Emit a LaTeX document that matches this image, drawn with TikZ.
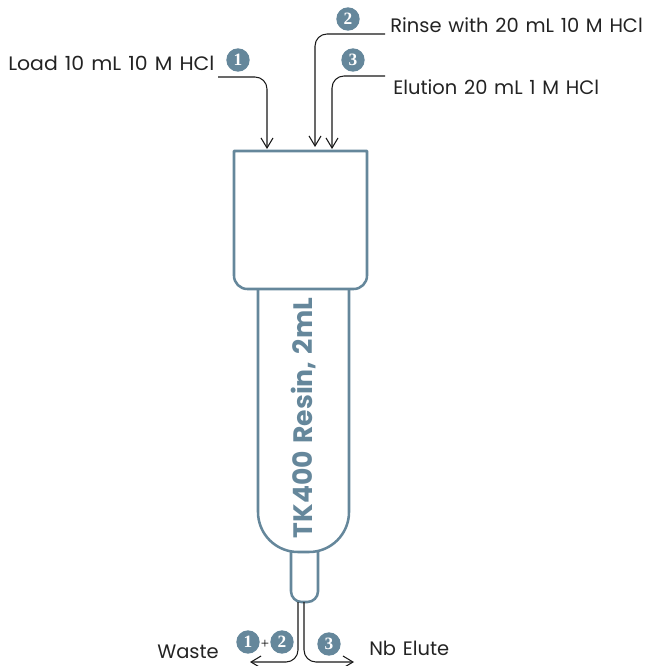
\documentclass[tikz,border=0pt]{standalone}
\usepackage{fontspec}
\setmainfont[WordSpace=1.3]{Poppins}
\newfontfamily\numfont{Liberation Serif}
\usetikzlibrary{arrows.meta, positioning, calc}
\definecolor{resinblue}{RGB}{101,135,155}
\definecolor{textgray}{RGB}{35,35,35}

\begin{document}
\begin{tikzpicture}[x=0.75pt, y=-0.75pt, font=\fontsize{14.6}{17}\selectfont\color{textgray}]
  \tikzstyle{wall}=[draw=resinblue, line width=1.9pt, line join=round]
  \tikzstyle{badge}=[circle, fill=resinblue, text=white, inner sep=0pt, minimum size=17.5pt, font=\numfont\bfseries\fontsize{13}{14}\selectfont]
  \tikzstyle{textlabel}=[inner sep=0pt, anchor=west]
  \tikzstyle{flow}=[draw=black!90, line width=0.8pt, rounded corners=9pt, -{Straight Barb[length=7.5pt, width=9pt]}]
  \useasboundingbox (0,0) rectangle (644,666);

  % column
  \draw[wall, rounded corners=30pt] (258,289) -- (258,552) -- (349,552) -- (349,289);
  \draw[wall, rounded corners=8pt] (291,552) -- (291,602) -- (318,602) -- (318,552);
  \draw[wall] (234,151) -- (367,151) [rounded corners=10pt] -- (367,289) -- (234,289) [sharp corners] -- cycle;
  \node[rotate=90, text=resinblue, inner sep=0pt, font=\bfseries\fontsize{20}{24}\selectfont] (resin) at (304,418) {TK400 Resin, 2mL};

  % inlet labels
  \node[textlabel, xscale=1.05] (load) at (8,63) {Load 10 mL 10 M HCl};
  \node[textlabel] (rinse) at (390,25) {Rinse with 20 mL 10 M HCl};
  \node[textlabel] (elution) at (393,87) {Elution 20 mL 1 M HCl};
  \node[badge] (in_one) at (238,60) {1};
  \node[badge] (in_two) at (348,19) {2};
  \node[badge] (in_three) at (353,60) {3};

  % outlet labels
  \node[textlabel] (waste) at (157,652) {Waste};
  \node[textlabel] (nb) at (369,648) {Nb Elute};
  \node[badge] (out_one) at (248,642) {1};
  \node[inner sep=0pt, font=\numfont\fontsize{11}{12}\selectfont] (plus) at (265,644) {+};
  \node[badge] (out_two) at (282,642) {2};
  \node[badge] (out_three) at (329,644) {3};

  % ends of the connectors
  \coordinate (load_start) at (218,77);
  \coordinate (load_end) at (267,149);
  \coordinate (rinse_start) at (385,34);
  \coordinate (rinse_end) at (315,147);
  \coordinate (elution_start) at (385,76);
  \coordinate (elution_end) at (332,149);
  \coordinate (tip_left) at (298,602);
  \coordinate (tip_right) at (304,602);
  \coordinate (waste_end) at (250,662);
  \coordinate (nb_end) at (354,662);

  % arrows
  \draw[flow] (load_start) -| (load_end);
  \draw[flow] (rinse_start) -| (rinse_end);
  \draw[flow] (elution_start) -| (elution_end);
  \draw[flow] (tip_left) |- (waste_end);
  \draw[flow] (tip_right) |- (nb_end);

\end{tikzpicture}
\end{document}
